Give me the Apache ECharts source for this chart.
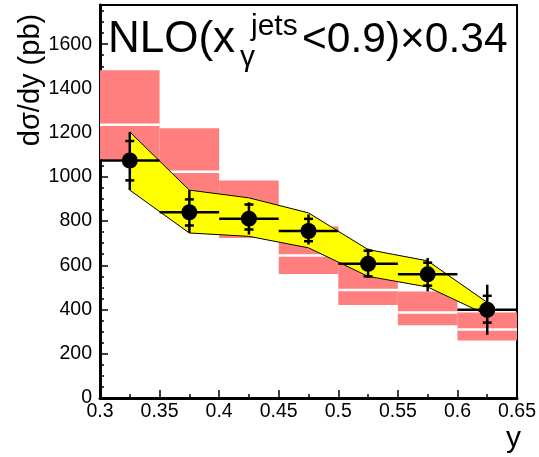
<!DOCTYPE html>
<html>
<head>
<meta charset="utf-8">
<script src="https://cdn.jsdelivr.net/npm/echarts@6/dist/echarts.min.js"></script>
<style>
html,body{margin:0;padding:0;background:#fff;}
#chart{width:539px;height:457px;}
</style>
</head>
<body>
<div id="chart"></div>
<script>
// ---- data ----
var binLo = [0.30, 0.35, 0.40, 0.45, 0.50, 0.55, 0.60];
var binHi = [0.35, 0.40, 0.45, 0.50, 0.55, 0.60, 0.65];
var binCenter = [0.325, 0.375, 0.425, 0.475, 0.525, 0.575, 0.625];

// NLO prediction (scaled x0.34): central, lower, upper
var nloCentral = [1235, 1023, 821, 644, 488, 387, 310];
var nloLow = [1078, 880, 724, 561, 420, 329, 260];
var nloHigh = [1482, 1220, 984, 775, 620, 481, 387];

// energy-scale uncertainty band (yellow)
var bandLow = [940, 746, 731, 679, 550, 502, 375];
var bandHigh = [1203, 940, 905, 837, 671, 620, 432];

// data points
var dataY = [1074, 840, 811, 755, 607, 559, 399];
var statLow = [984, 780, 762, 709, 550, 508, 341];
var statHigh = [1162, 898, 875, 810, 666, 612, 462];
var totLow = [940, 746, 739, 694, 543, 482, 286];
var totHigh = [1203, 940, 885, 830, 675, 633, 512];

var xTicks = [0.3, 0.35, 0.4, 0.45, 0.5, 0.55, 0.6, 0.65];
var yTicks = [0, 200, 400, 600, 800, 1000, 1200, 1400, 1600];

var FONT = 'Liberation Sans';

var chart = echarts.init(document.getElementById('chart'), null, {renderer: 'canvas'});

var nloData = binLo.map(function (lo, i) {
  return [lo, binHi[i], nloLow[i], nloHigh[i], nloCentral[i]];
});
var bandData = [];
for (var i = 0; i < binCenter.length - 1; i++) {
  bandData.push([binCenter[i], bandLow[i], bandHigh[i], binCenter[i + 1], bandLow[i + 1], bandHigh[i + 1]]);
}
var ptData = binCenter.map(function (c, i) {
  return [c, dataY[i], binLo[i], binHi[i], statLow[i], statHigh[i], totLow[i], totHigh[i]];
});

var option = {
  animation: false,
  backgroundColor: '#fff',
  grid: {left: 100, right: 18, top: 5, bottom: 59, show: true, borderColor: '#000', borderWidth: 2, backgroundColor: 'transparent'},
  xAxis: [{
    type: 'value', min: 0.3, max: 0.65, interval: 0.05,
    axisLine: {show: true, onZero: false, lineStyle: {color: '#000', width: 3}},
    axisTick: {show: true, inside: true, length: 8, lineStyle: {color: '#000', width: 1.5}},
    minorTick: {show: true, splitNumber: 2, length: 4, lineStyle: {color: '#000', width: 1.5}},
    splitLine: {show: false},
    axisLabel: {
      color: '#000', fontFamily: FONT, fontSize: 19.5, margin: 4,
      formatter: function (v) {
        var r = Math.round(v * 100) / 100;
        for (var k = 0; k < xTicks.length; k++) { if (Math.abs(xTicks[k] - r) < 1e-6) return String(xTicks[k]); }
        return '';
      }
    }
  }],
  yAxis: [{
    type: 'value', min: 0, max: 1777, interval: 200,
    axisLine: {show: true, onZero: false, lineStyle: {color: '#000', width: 3}},
    axisTick: {show: true, inside: true, length: 8, lineStyle: {color: '#000', width: 1.5}},
    splitLine: {show: false},
    axisLabel: {
      color: '#000', fontFamily: FONT, fontSize: 19.5, margin: 8, showMaxLabel: false,
      formatter: function (v) {
        for (var k = 0; k < yTicks.length; k++) { if (Math.abs(yTicks[k] - v) < 1e-6) return String(yTicks[k]); }
        return '';
      }
    }
  }, {
    type: 'value', min: 0, max: 1777, interval: 50, position: 'left', offset: 0,
    axisLine: {show: false},
    axisTick: {show: true, inside: true, length: 4, lineStyle: {color: '#000', width: 1.5}},
    splitLine: {show: false},
    axisLabel: {show: false}
  }],
  graphic: [
    {type: 'text', x: 108, y: 40, style: {text: 'NLO(x', fontFamily: FONT, fontSize: 44, fill: '#000', textAlign: 'left', textVerticalAlign: 'middle'}},
    {type: 'text', x: 240, y: 58, style: {text: 'γ', fontFamily: FONT, fontSize: 30, fill: '#000', textAlign: 'left', textVerticalAlign: 'middle'}},
    {type: 'text', x: 251, y: 27, style: {text: 'jets', fontFamily: FONT, fontSize: 30, fill: '#000', textAlign: 'left', textVerticalAlign: 'middle'}},
    {type: 'text', x: 302, y: 40, style: {text: '<0.9)×0.34', fontFamily: FONT, fontSize: 42.5, fill: '#000', textAlign: 'left', textVerticalAlign: 'middle'}},
    {type: 'text', x: 31, y: 80, rotation: Math.PI / 2, style: {text: 'dσ/dy (pb)', fontFamily: FONT, fontSize: 29, fill: '#000', textAlign: 'center', textVerticalAlign: 'middle'}},
    {type: 'text', x: 521, y: 439, style: {text: 'y', fontFamily: FONT, fontSize: 30, fill: '#000', textAlign: 'right', textVerticalAlign: 'middle'}}
  ],
  series: [
    {
      type: 'custom', name: 'NLO', z: 2, data: nloData,
      renderItem: function (params, api) {
        var p1 = api.coord([api.value(0), api.value(3)]);
        var p2 = api.coord([api.value(1), api.value(2)]);
        var pc1 = api.coord([api.value(0), api.value(4)]);
        var pc2 = api.coord([api.value(1), api.value(4)]);
        return {
          type: 'group', children: [
            {type: 'rect', shape: {x: p1[0], y: p1[1], width: p2[0] - p1[0], height: p2[1] - p1[1]}, style: {fill: '#ff7f7f'}},
            {type: 'line', shape: {x1: pc1[0], y1: pc1[1], x2: pc2[0], y2: pc2[1]}, style: {stroke: '#fff', lineWidth: 2.5}}
          ]
        };
      }
    },
    {
      type: 'custom', name: 'band', z: 3, data: bandData,
      renderItem: function (params, api) {
        var a1 = api.coord([api.value(0), api.value(1)]);
        var a2 = api.coord([api.value(0), api.value(2)]);
        var b1 = api.coord([api.value(3), api.value(4)]);
        var b2 = api.coord([api.value(3), api.value(5)]);
        return {
          type: 'group', children: [
            {type: 'polygon', shape: {points: [a1, a2, b2, b1]}, style: {fill: '#ffff00', stroke: '#ffff00', lineWidth: 0.6}},
            {type: 'line', shape: {x1: a1[0], y1: a1[1], x2: b1[0], y2: b1[1]}, style: {stroke: '#000', lineWidth: 1}},
            {type: 'line', shape: {x1: a2[0], y1: a2[1], x2: b2[0], y2: b2[1]}, style: {stroke: '#000', lineWidth: 1}}
          ]
        };
      }
    },
    {
      type: 'custom', name: 'data', z: 4, data: ptData,
      renderItem: function (params, api) {
        var c = api.coord([api.value(0), api.value(1)]);
        var hl = api.coord([api.value(2), api.value(1)]);
        var hr = api.coord([api.value(3), api.value(1)]);
        var sl = api.coord([api.value(0), api.value(4)]);
        var sh = api.coord([api.value(0), api.value(5)]);
        var tl = api.coord([api.value(0), api.value(6)]);
        var th = api.coord([api.value(0), api.value(7)]);
        var lw = 2.5, tw = 4.5;
        return {
          type: 'group', children: [
            {type: 'line', shape: {x1: hl[0], y1: c[1], x2: hr[0], y2: c[1]}, style: {stroke: '#000', lineWidth: lw}},
            {type: 'line', shape: {x1: c[0], y1: th[1], x2: c[0], y2: tl[1]}, style: {stroke: '#000', lineWidth: lw}},
            {type: 'line', shape: {x1: c[0] - tw, y1: sh[1], x2: c[0] + tw, y2: sh[1]}, style: {stroke: '#000', lineWidth: lw}},
            {type: 'line', shape: {x1: c[0] - tw, y1: sl[1], x2: c[0] + tw, y2: sl[1]}, style: {stroke: '#000', lineWidth: lw}},
            {type: 'circle', shape: {cx: c[0], cy: c[1], r: 8}, style: {fill: '#000'}}
          ]
        };
      }
    }
  ]
};
chart.setOption(option);
</script>
</body>
</html>
